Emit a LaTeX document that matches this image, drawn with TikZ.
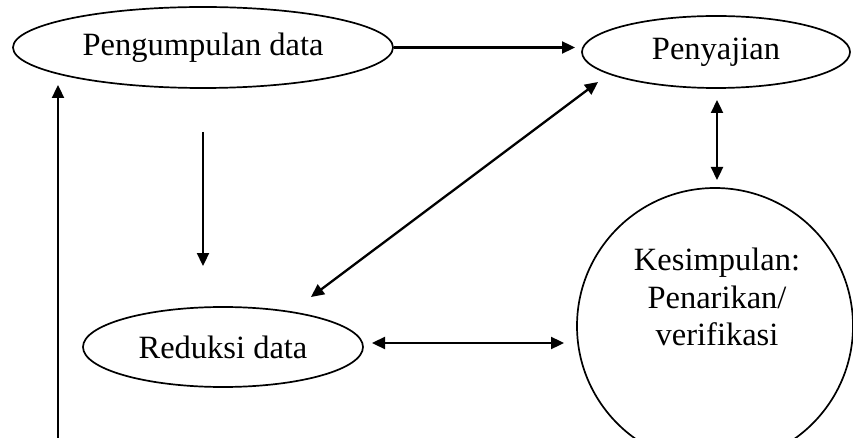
\documentclass[tikz,border=0pt]{standalone}
\usepackage{fontspec}
\setmainfont{Liberation Serif}
\usetikzlibrary{shapes.geometric,arrows.meta}
\begin{document}
\begin{tikzpicture}[x=1pt,y=-1pt,
  oval/.style={ellipse,draw,line width=1.7pt,fill=white,inner sep=0pt,
    font=\fontsize{32.5}{38}\selectfont},
  conn/.style={line width=2.3pt,-{Triangle[length=13pt,width=12pt]}},
  dconn/.style={line width=2.3pt,{Triangle[length=13pt,width=12pt]}-{Triangle[length=13pt,width=12pt]}}]
\useasboundingbox (0,0) rectangle (853,438);
\clip (0,0) rectangle (853,438);
\node[oval,minimum width=380pt,minimum height=81pt] (pg) at (203,47.5) {Pengumpulan data};
\node[oval,minimum width=268pt,minimum height=72pt] (s) at (716,52) {Penyajian};
\node[oval,minimum width=280pt,minimum height=80pt] (rd) at (223,347) {Reduksi data};
\node[oval,minimum width=276pt,minimum height=276pt] (k) at (715,326) {};
\node[align=center,font=\fontsize{32.5}{37.5}\selectfont] (kt) at (717,297) {Kesimpulan:\\Penarikan/\\verifikasi};
% connectors
\coordinate (a1) at (575,47.5);
\draw[conn] (pg.east) -- (a1);
\coordinate (d1) at (203,132);
\coordinate (d2) at (203,266);
\draw[conn] (d1) -- (d2);
\coordinate (g1) at (311,297);
\coordinate (g2) at (598,82);
\draw[dconn] (g1) -- (g2);
\coordinate (v1) at (717,100);
\coordinate (v2) at (717,180);
\draw[dconn] (v1) -- (v2);
\coordinate (h1) at (372,343);
\coordinate (h2) at (564,343);
\draw[dconn] (h1) -- (h2);
\coordinate (l1) at (58,440);
\coordinate (l2) at (58,85);
\draw[conn] (l1) -- (l2);
\end{tikzpicture}
\end{document}
